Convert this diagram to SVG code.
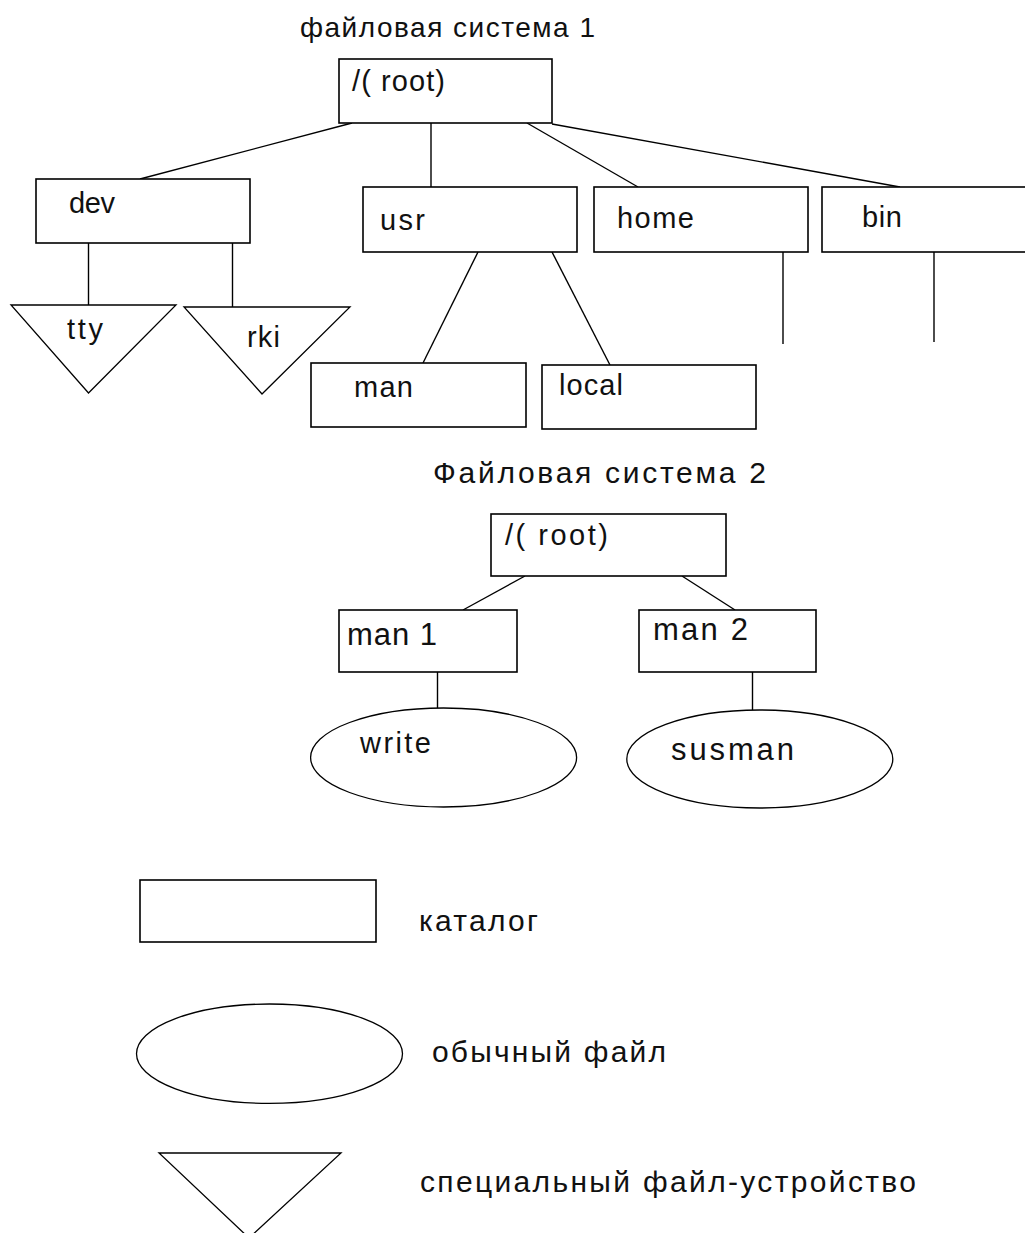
<svg xmlns="http://www.w3.org/2000/svg" width="1025" height="1233" viewBox="0 0 1025 1233">
<style>
  .box{fill:#fff;stroke:#000;stroke-width:1.6}
  .shape{fill:#fff;stroke:#000;stroke-width:1.3}
  .edge{stroke:#000;stroke-width:1.4;fill:none}
  text{font-family:"Liberation Sans",Arial,sans-serif;fill:#111}
  .lbl{font-size:29px}
  .big{font-size:31px}
  .ttl{font-size:28px}
  .ttl2{font-size:30px}
  .leg{font-size:30px}
</style>
<rect x="0" y="0" width="1025" height="1233" fill="#fff"/>

<g id="titles">
  <text class="ttl" x="300" y="37" textLength="295">файловая система 1</text>
  <text class="ttl2" x="433" y="483" textLength="333">Файловая система 2</text>
</g>

<g id="connectors">
  <line class="edge" x1="352" y1="123" x2="140" y2="179"/>
  <line class="edge" x1="431" y1="123" x2="431" y2="187"/>
  <line class="edge" x1="527" y1="123" x2="638" y2="187"/>
  <line class="edge" x1="552" y1="124" x2="900" y2="187"/>
  <line class="edge" x1="88.5" y1="243" x2="88.5" y2="305"/>
  <line class="edge" x1="232.5" y1="243" x2="232.5" y2="307"/>
  <line class="edge" x1="478" y1="252" x2="423" y2="363"/>
  <line class="edge" x1="552" y1="252" x2="610" y2="365"/>
  <line class="edge" x1="783" y1="252" x2="783" y2="344"/>
  <line class="edge" x1="934" y1="252" x2="934" y2="342"/>
  <line class="edge" x1="525" y1="576" x2="463" y2="610"/>
  <line class="edge" x1="682" y1="576" x2="735" y2="610"/>
  <line class="edge" x1="437.5" y1="672" x2="437.5" y2="708"/>
  <line class="edge" x1="752.5" y1="672" x2="752.5" y2="710"/>
</g>

<g id="root1">
  <rect class="box" x="339" y="59" width="213" height="64"/>
  <text class="lbl" x="352" y="91" textLength="93">/( root)</text>
</g>
<g id="dev">
  <rect class="box" x="36" y="179" width="214" height="64"/>
  <text class="lbl" x="69" y="213" textLength="46">dev</text>
</g>
<g id="usr">
  <rect class="box" x="363" y="187" width="214" height="65"/>
  <text class="lbl" x="380" y="230" textLength="45">usr</text>
</g>
<g id="home">
  <rect class="box" x="594" y="187" width="214" height="65"/>
  <text class="lbl" x="617" y="228" textLength="77">home</text>
</g>
<g id="bin">
  <rect class="box" x="822" y="187" width="210" height="65"/>
  <text class="lbl" x="862" y="227" textLength="40">bin</text>
</g>
<g id="tty">
  <polygon class="shape" points="11,305 176,305 88.5,393"/>
  <text class="lbl" x="67" y="339" textLength="36">tty</text>
</g>
<g id="rki">
  <polygon class="shape" points="184,307 350,307 262,394"/>
  <text class="lbl" x="247" y="347" textLength="33">rki</text>
</g>
<g id="man">
  <rect class="box" x="311" y="363" width="215" height="64"/>
  <text class="lbl" x="354" y="397" textLength="59">man</text>
</g>
<g id="local">
  <rect class="box" x="542" y="365" width="214" height="64"/>
  <text class="lbl" x="559" y="395" textLength="64">local</text>
</g>

<g id="root2">
  <rect class="box" x="491" y="514" width="235" height="62"/>
  <text class="lbl" x="505" y="545" textLength="103">/( root)</text>
</g>
<g id="man1">
  <rect class="box" x="339" y="610" width="178" height="62"/>
  <text class="big" x="347" y="645" textLength="90">man 1</text>
</g>
<g id="man2">
  <rect class="box" x="639" y="610" width="177" height="62"/>
  <text class="big" x="653" y="640" textLength="95">man 2</text>
</g>
<g id="write">
  <ellipse class="shape" cx="443.6" cy="757.5" rx="133" ry="49.5"/>
  <text class="lbl" x="360" y="753" textLength="71">write</text>
</g>
<g id="susman">
  <ellipse class="shape" cx="759.8" cy="759" rx="133" ry="49"/>
  <text class="big" x="671" y="760" textLength="123">susman</text>
</g>

<g id="legend-catalog">
  <rect class="box" x="140" y="880" width="236" height="62"/>
  <text class="leg" x="419" y="931" textLength="119">каталог</text>
</g>
<g id="legend-file">
  <ellipse class="shape" cx="269.5" cy="1053.7" rx="133" ry="49.7"/>
  <text class="leg" x="432" y="1062" textLength="234">обычный файл</text>
</g>
<g id="legend-device">
  <polygon class="shape" points="159,1153 341,1153 249,1238"/>
  <text class="leg" x="420" y="1192" textLength="496">специальный файл-устройство</text>
</g>
</svg>
